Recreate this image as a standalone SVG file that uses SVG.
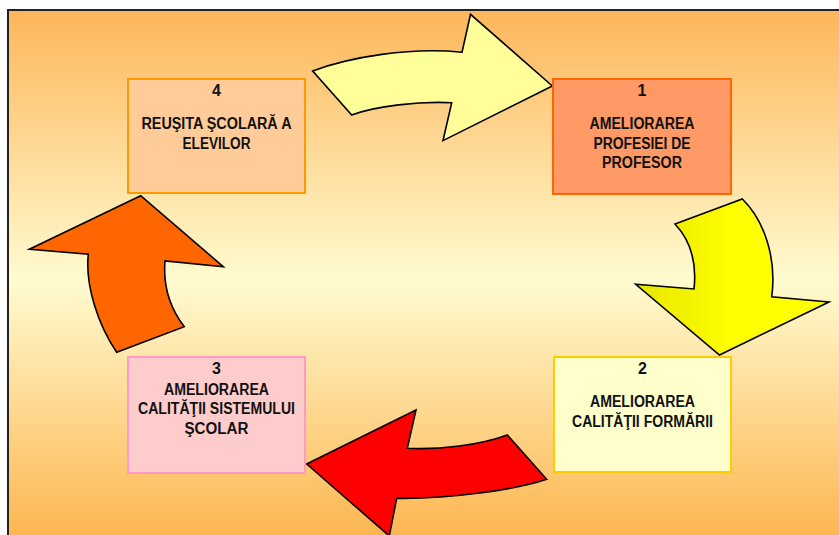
<svg xmlns="http://www.w3.org/2000/svg" width="839" height="535" viewBox="0 0 839 535">
<defs>
<linearGradient id="bg" x1="0" y1="0" x2="0" y2="1">
<stop offset="0" stop-color="#FDB65A"/>
<stop offset="0.5" stop-color="#FFFBD0"/>
<stop offset="1" stop-color="#FDB24A"/>
</linearGradient>
<linearGradient id="yel" x1="0" y1="0" x2="1" y2="0">
<stop offset="0" stop-color="#E6E600"/>
<stop offset="0.5" stop-color="#FFFF00"/>
<stop offset="1" stop-color="#FFFF00"/>
</linearGradient>
<style>
.arrow{stroke:#000;stroke-width:1.6;stroke-linejoin:miter}
.box{stroke-width:2}
text{font-family:"Liberation Sans",Arial,sans-serif;font-weight:bold;font-size:16px;fill:#111;text-anchor:middle}
</style>
</defs>
<rect x="0" y="0" width="839" height="535" fill="#fff"/>
<rect x="8" y="10" width="840" height="540" fill="url(#bg)" stroke="#222" stroke-width="2"/>
<g id="connectors">
<path class="arrow" fill="#FFFF99" d="M312.7,71 C350,57 410,47 462,52.3 L470.5,14.3 L552.3,86 L443,140.6 L451.7,102.7 C420,101 375,106 351.7,115 Z"/>
<path class="arrow" fill="url(#yel)" d="M675,224 L742.3,199 C764,220 777,258 771.7,296.7 L829,302 L719.5,355 L635.7,284.3 L694,289 C697,262 690,240 675,224 Z"/>
<path class="arrow" fill="#FF0000" d="M546.7,479.3 C515,490 450,499 396.7,498.3 L389.3,536 L306.7,464 L416,410 L407.3,448.3 C440,450 480,445 507.3,435 Z"/>
<path class="arrow" fill="#FF6600" d="M116.7,352.3 C98,325 85,285 88.3,254.3 L29.3,249.3 L140.7,195.7 L223.3,266.7 L165,261 C163,285 170,308 184.3,326.7 Z"/>
</g>
<g id="node1">
<rect class="box" x="553" y="79" width="178" height="115" fill="#FF9966" stroke="#FF6600"/>
<text x="642" y="96">1</text>
<text x="642" y="129" textLength="105" lengthAdjust="spacingAndGlyphs">AMELIORAREA</text>
<text x="642" y="148.5" textLength="97" lengthAdjust="spacingAndGlyphs">PROFESIEI DE</text>
<text x="642" y="168" textLength="80" lengthAdjust="spacingAndGlyphs">PROFESOR</text>
</g>
<g id="node2">
<rect class="box" x="554" y="357" width="177" height="115" fill="#FFFFCC" stroke="#FFCC00"/>
<text x="642.5" y="374">2</text>
<text x="642.5" y="407" textLength="105" lengthAdjust="spacingAndGlyphs">AMELIORAREA</text>
<text x="642.5" y="426.5" textLength="141" lengthAdjust="spacingAndGlyphs">CALITĂŢII FORMĂRII</text>
</g>
<g id="node3">
<rect class="box" x="128" y="357" width="177" height="116" fill="#FFCCCC" stroke="#FF99CC"/>
<text x="216.5" y="374">3</text>
<text x="216.5" y="394.5" textLength="105" lengthAdjust="spacingAndGlyphs">AMELIORAREA</text>
<text x="216.5" y="414" textLength="157" lengthAdjust="spacingAndGlyphs">CALITĂŢII SISTEMULUI</text>
<text x="216.5" y="433.5" textLength="64" lengthAdjust="spacingAndGlyphs">ŞCOLAR</text>
</g>
<g id="node4">
<rect class="box" x="128" y="79" width="177" height="114" fill="#FFCC99" stroke="#FF9900"/>
<text x="216.5" y="96">4</text>
<text x="216.5" y="129" textLength="150" lengthAdjust="spacingAndGlyphs">REUŞITA ŞCOLARĂ A</text>
<text x="216.5" y="149" textLength="68" lengthAdjust="spacingAndGlyphs">ELEVILOR</text>
</g>
</svg>
